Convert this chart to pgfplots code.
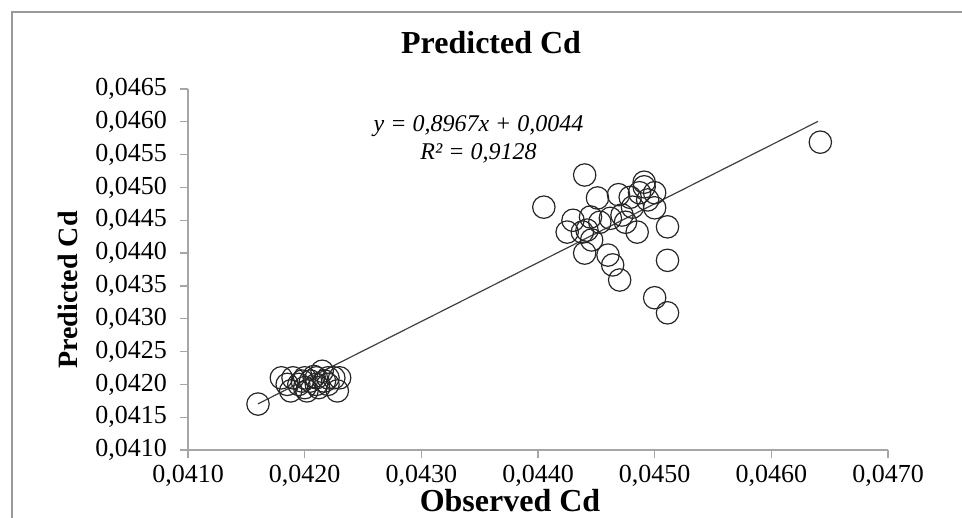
\documentclass[border=0pt]{standalone}
\usepackage{fontspec}
\setmainfont{Liberation Serif}
\usepackage{pgfplots}
\pgfplotsset{compat=1.18}

\begin{document}
\begin{tikzpicture}
\path[use as bounding box] (0,0) rectangle (481pt,259pt);
\draw[gray!80, line width=0.6pt] (6pt,-5pt) -- (6pt,253pt) -- (490pt,253pt);
\begin{axis}[
    at={(94pt,34pt)}, anchor=south west,
    scale only axis,
    width=350pt, height=180.5pt,
    xmin=0.041, xmax=0.047,
    ymin=0.041, ymax=0.0465,
    xtick={0.041,0.042,0.043,0.044,0.045,0.046,0.047},
    ytick={0.041,0.0415,0.042,0.0425,0.043,0.0435,0.044,0.0445,0.045,0.0455,0.046,0.0465},
    scaled ticks=false,
    /pgf/number format/fixed,
    /pgf/number format/fixed zerofill,
    /pgf/number format/precision=4,
    /pgf/number format/use comma,
    /pgf/number format/assume math mode=true,
    ticklabel style={font=\fontsize{13}{15}\selectfont},
    yticklabel style={xshift=-3pt},
    axis x line*=bottom, axis y line*=left,
    axis line style={-, gray!70, line width=0.6pt},
    tick style={gray!70, line width=0.6pt},
    tick align=outside, major tick length=4pt,
    title={Predicted Cd},
    title style={font=\fontsize{16}{18}\selectfont\bfseries, at={(rel axis cs:0.433,1.095)}, anchor=center},
    xlabel={Observed Cd},
    xlabel style={font=\fontsize{16}{18}\selectfont\bfseries, at={(rel axis cs:0.46,-0.139)}, anchor=center},
    ylabel={Predicted Cd},
    ylabel style={font=\fontsize{14}{16}\selectfont\bfseries, at={(rel axis cs:-0.171,0.443)}, anchor=center},
    clip=false,
]
\addplot[only marks, mark=o, mark size=5.6pt, mark options={black!85, line width=0.6pt}] coordinates {
(0.04642,0.04569)
(0.04440,0.04519)
(0.04491,0.04508)
(0.04491,0.04501)
(0.04405,0.04470)
(0.04451,0.04484)
(0.04469,0.04489)
(0.04487,0.04492)
(0.04500,0.04492)
(0.04481,0.04470)
(0.04500,0.04469)
(0.04430,0.04450)
(0.04445,0.04455)
(0.04462,0.04453)
(0.04472,0.04458)
(0.04425,0.04432)
(0.04442,0.04435)
(0.04485,0.04432)
(0.04511,0.04440)
(0.04440,0.04400)
(0.04460,0.04397)
(0.04464,0.04382)
(0.04470,0.04359)
(0.04511,0.04389)
(0.04500,0.04332)
(0.04511,0.04309)
(0.04446,0.04420)
(0.04438,0.04432)
(0.04494,0.04481)
(0.04479,0.04485)
(0.04453,0.04447)
(0.04475,0.04447)
(0.0416,0.0417)
(0.0418,0.0421)
(0.04185,0.0420)
(0.04188,0.0419)
(0.0419,0.0421)
(0.04195,0.0420)
(0.0420,0.0421)
(0.0420,0.04195)
(0.04202,0.0419)
(0.04205,0.04205)
(0.0421,0.0420)
(0.0421,0.0421)
(0.04212,0.04195)
(0.04215,0.0422)
(0.04217,0.04205)
(0.0422,0.0421)
(0.0422,0.0420)
(0.04225,0.0421)
(0.0423,0.0421)
(0.04228,0.0419)
(0.04198,0.04205)
(0.04208,0.04212)
};
\addplot[black!75, line width=0.6pt] coordinates {(0.0416,0.041703) (0.0464,0.046007)};
\node[font=\fontsize{12}{14}\selectfont\itshape] at (axis cs:0.04349,0.04593) {y = 0,8967x + 0,0044};
\node[font=\fontsize{12}{14}\selectfont\itshape] at (axis cs:0.04349,0.04552) {R² = 0,9128};
\end{axis}
\end{tikzpicture}
\end{document}
